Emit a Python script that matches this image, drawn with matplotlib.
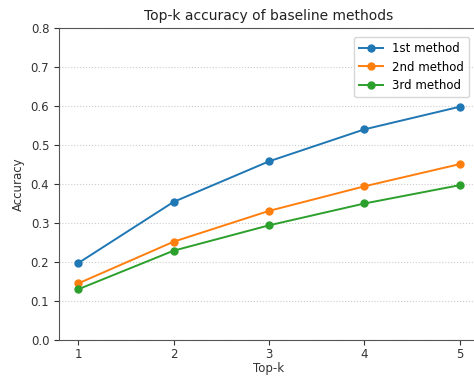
import matplotlib
matplotlib.use("Agg")
import matplotlib.pyplot as plt

top_k = [1, 2, 3, 4, 5]
method_1 = [0.197, 0.354, 0.458, 0.540, 0.598]
method_2 = [0.145, 0.252, 0.331, 0.394, 0.451]
method_3 = [0.130, 0.229, 0.294, 0.350, 0.397]
labels = ["1st method", "2nd method", "3rd method"]

fig = plt.figure(figsize=(4.74, 3.77), dpi=100)
ax = fig.add_axes([0.1245, 0.098, 0.886, 0.828])

for vals, lab in zip([method_1, method_2, method_3], labels):
    ax.plot(top_k, vals, marker="o", markersize=5, linewidth=1.4, label=lab)

ax.set_xlim(0.8, 5.2)
ax.set_ylim(0.0, 0.8)
ax.set_xticks(top_k)
ax.tick_params(labelsize=8.5, colors="#333333")
ax.tick_params(axis="x", pad=2)
for sp in ax.spines.values():
    sp.set_color("#555555")
ax.grid(axis="y", linestyle=":", color="#cccccc", linewidth=0.8)
ax.set_title("Top-k accuracy of baseline methods", fontsize=10, color="#222222")
ax.set_xlabel("Top-k", fontsize=8.5, labelpad=1, color="#333333")
ax.set_ylabel("Accuracy", fontsize=8.5, color="#333333")
ax.legend(loc="upper right", fontsize=8.5, bbox_to_anchor=(0.99, 0.99))

fig.savefig("out.png", dpi=100)
